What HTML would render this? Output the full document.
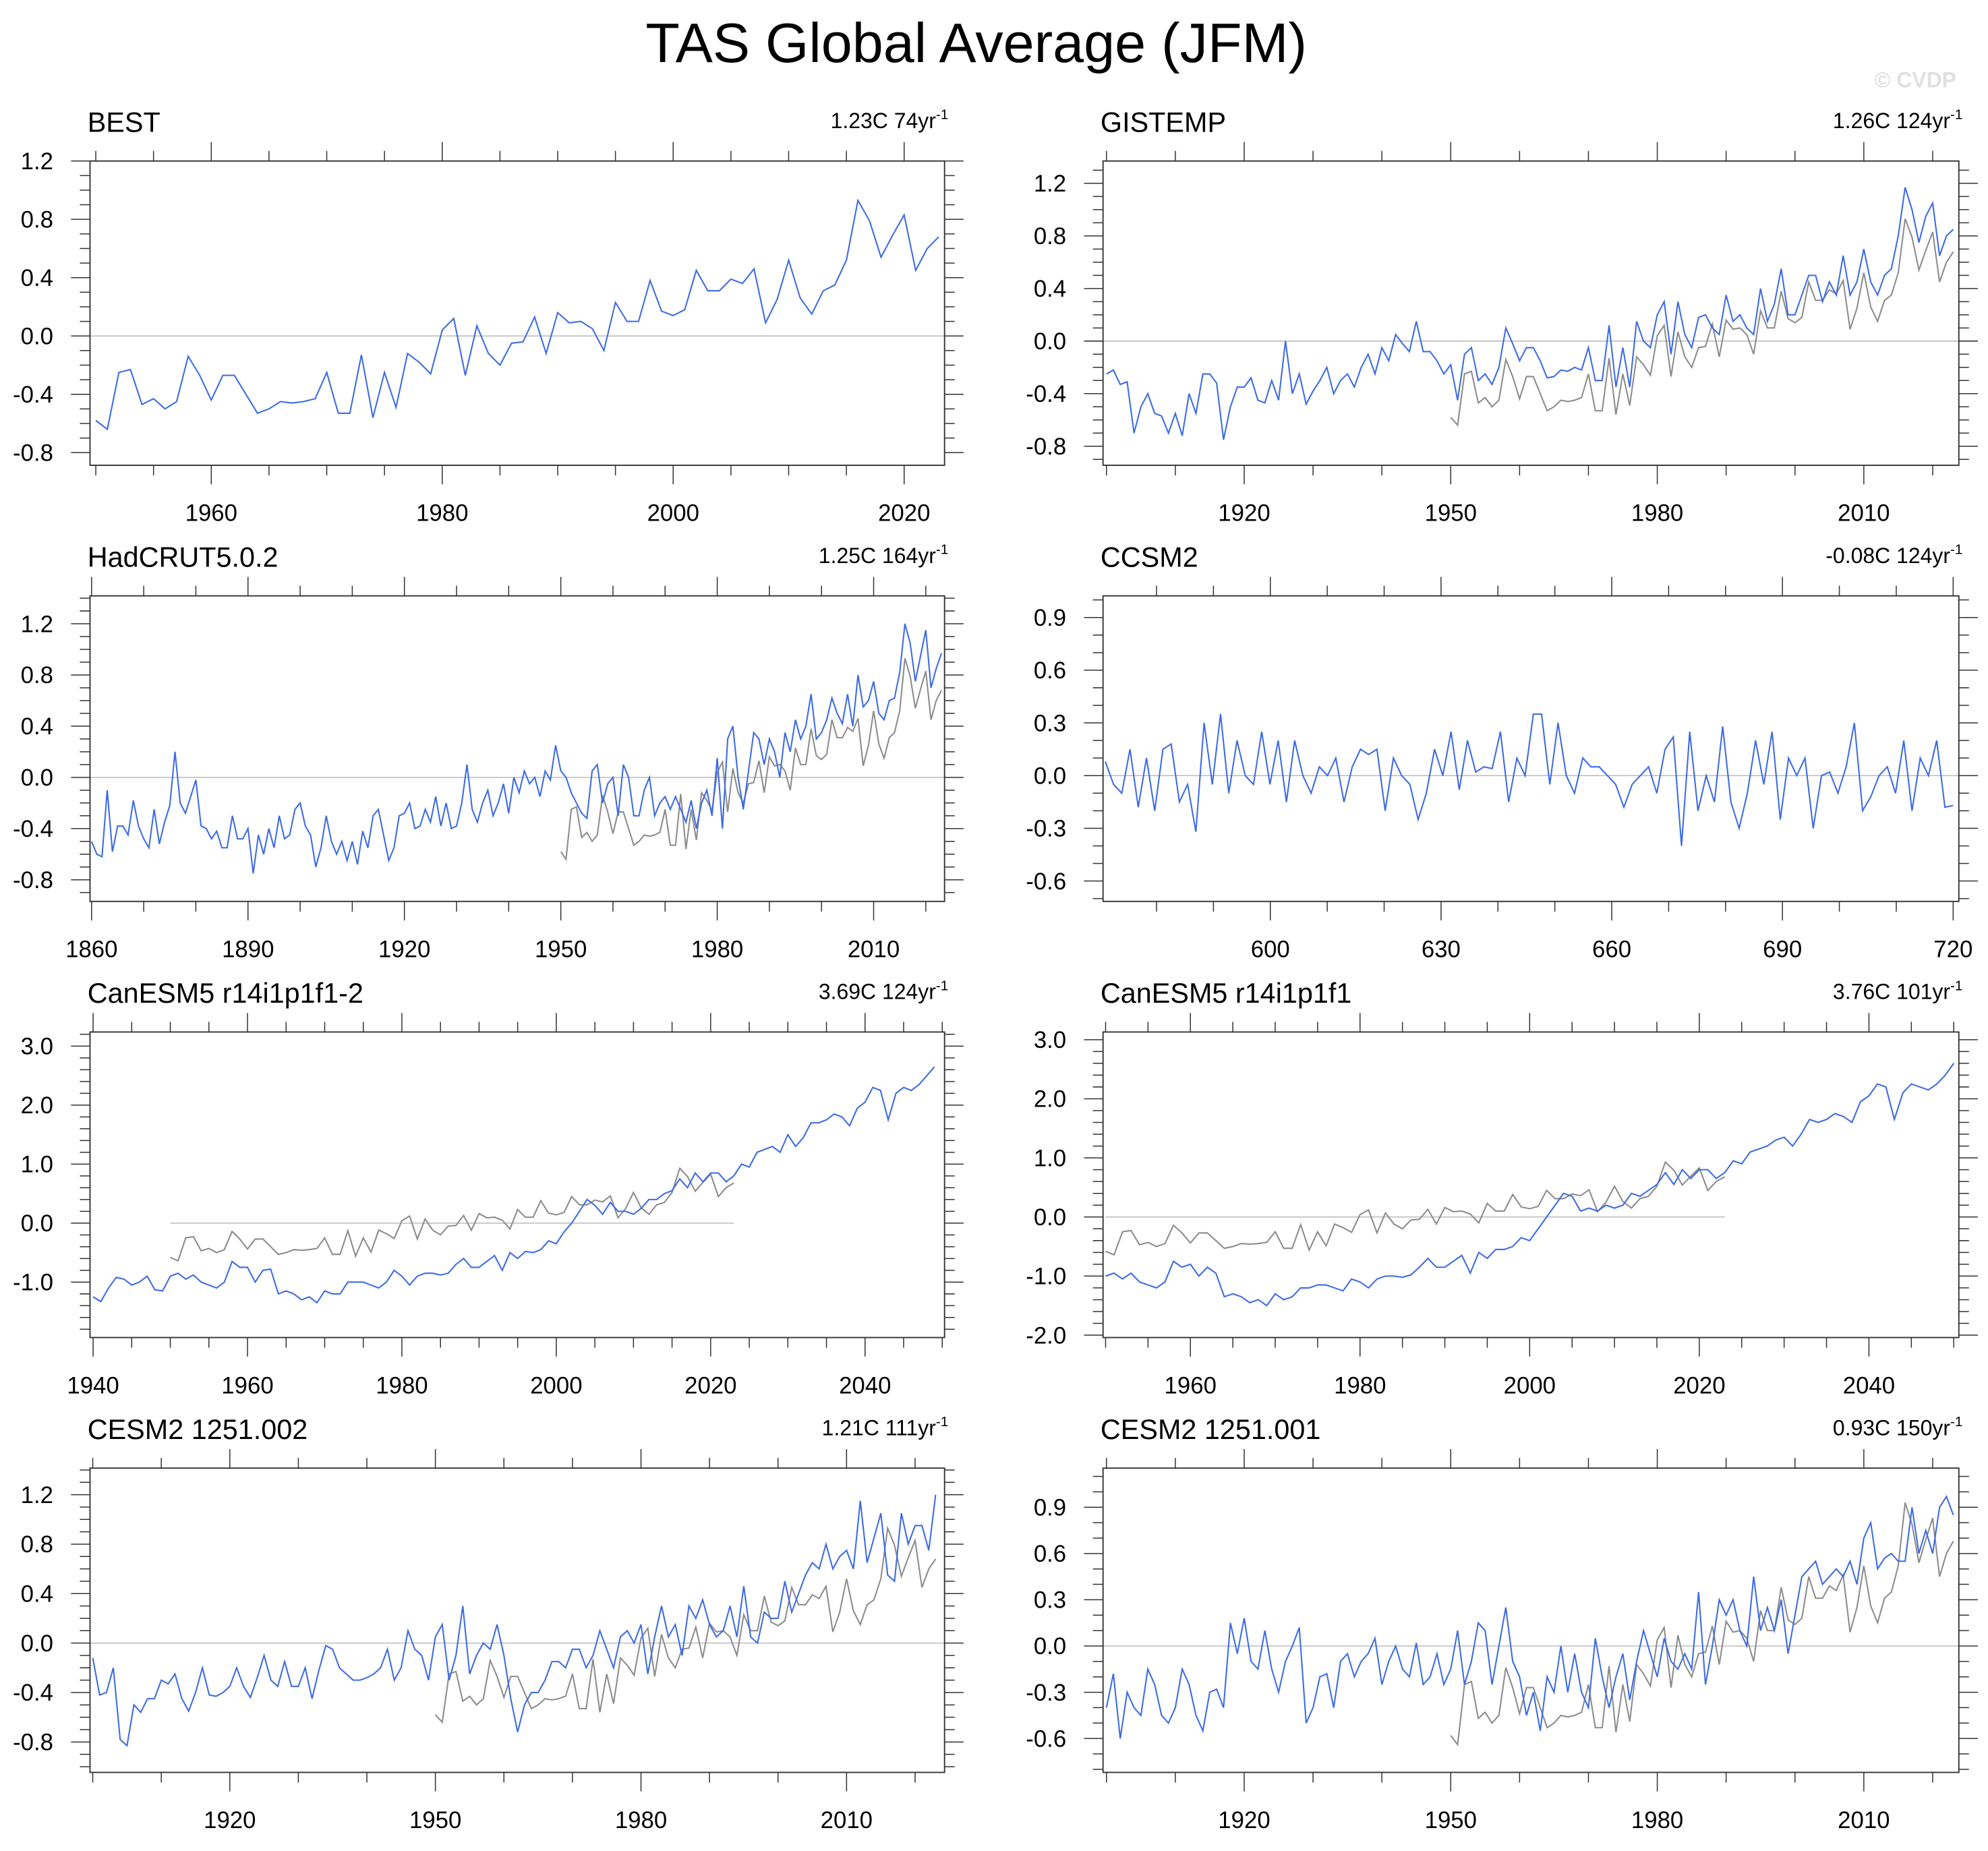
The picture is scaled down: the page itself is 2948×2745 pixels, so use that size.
<!DOCTYPE html>
<html><head><meta charset="utf-8"><style>
html,body{margin:0;padding:0;background:#fff}
svg{display:block;font-family:"Liberation Sans",Arial,sans-serif}
</style></head><body>
<svg id="fig" xmlns="http://www.w3.org/2000/svg" width="2948" height="2745" viewBox="0 0 1568 1460" preserveAspectRatio="none">
<rect width="1568" height="1460" fill="#fff"/>
<text x="770" y="49" font-size="44" text-anchor="middle">TAS Global Average (JFM)</text>
<text x="1543" y="69" font-size="17" font-weight="bold" fill="#e0e0e0" text-anchor="end">© CVDP</text>
</svg>
<script>
const bestVals=[-0.58,-0.64,-0.25,-0.23,-0.47,-0.43,-0.5,-0.45,-0.14,-0.27,-0.44,-0.27,-0.27,-0.4,-0.53,-0.5,-0.45,-0.46,-0.45,-0.43,-0.25,-0.53,-0.53,-0.13,-0.56,-0.25,-0.49,-0.12,-0.18,-0.26,0.04,0.12,-0.27,0.07,-0.12,-0.2,-0.05,-0.04,0.13,-0.12,0.16,0.09,0.1,0.05,-0.1,0.23,0.1,0.1,0.38,0.17,0.14,0.18,0.45,0.31,0.31,0.39,0.36,0.46,0.09,0.25,0.52,0.26,0.15,0.31,0.35,0.52,0.93,0.79,0.54,0.69,0.83,0.45,0.6,0.68];
const bestStart=1950;
const gisVals=[-0.25,-0.22,-0.33,-0.31,-0.7,-0.5,-0.4,-0.55,-0.57,-0.7,-0.55,-0.72,-0.4,-0.55,-0.25,-0.25,-0.32,-0.75,-0.5,-0.35,-0.35,-0.28,-0.45,-0.47,-0.3,-0.45,0.0,-0.4,-0.25,-0.48,-0.38,-0.3,-0.2,-0.4,-0.3,-0.25,-0.35,-0.2,-0.1,-0.25,-0.05,-0.15,0.05,-0.02,-0.08,0.15,-0.08,-0.08,-0.15,-0.25,-0.18,-0.45,-0.1,-0.05,-0.3,-0.25,-0.33,-0.2,0.1,-0.02,-0.15,-0.05,-0.05,-0.15,-0.28,-0.27,-0.22,-0.23,-0.2,-0.22,-0.05,-0.3,-0.3,0.12,-0.35,-0.05,-0.35,0.15,0.0,-0.05,0.2,0.3,-0.1,0.3,0.05,-0.05,0.18,0.2,0.1,0.05,0.35,0.15,0.2,0.1,0.05,0.4,0.15,0.28,0.55,0.2,0.2,0.35,0.5,0.5,0.3,0.45,0.35,0.65,0.35,0.45,0.7,0.45,0.35,0.5,0.55,0.8,1.17,1.0,0.75,0.95,1.05,0.65,0.8,0.85];
const hadVals=[-0.5,-0.6,-0.62,-0.1,-0.58,-0.38,-0.38,-0.45,-0.18,-0.38,-0.48,-0.55,-0.25,-0.52,-0.35,-0.22,0.2,-0.2,-0.28,-0.15,-0.02,-0.38,-0.4,-0.48,-0.42,-0.55,-0.55,-0.3,-0.48,-0.48,-0.4,-0.75,-0.45,-0.6,-0.4,-0.55,-0.3,-0.48,-0.45,-0.25,-0.2,-0.38,-0.45,-0.7,-0.55,-0.3,-0.5,-0.6,-0.5,-0.65,-0.5,-0.68,-0.42,-0.55,-0.3,-0.25,-0.45,-0.65,-0.55,-0.3,-0.28,-0.2,-0.4,-0.38,-0.25,-0.35,-0.15,-0.38,-0.2,-0.4,-0.38,-0.2,0.1,-0.25,-0.35,-0.2,-0.1,-0.3,-0.2,-0.05,-0.28,0.0,-0.12,0.05,-0.05,0.0,-0.15,0.05,-0.02,0.25,0.05,0.0,-0.12,-0.2,-0.28,-0.32,0.05,0.1,-0.2,-0.05,0.0,-0.3,0.1,0.0,-0.3,-0.3,-0.1,0.0,-0.3,-0.2,-0.15,-0.25,-0.15,-0.25,-0.35,-0.18,-0.4,-0.2,-0.1,-0.3,0.15,-0.4,0.3,0.4,0.0,-0.25,0.05,0.35,0.3,0.1,0.3,0.2,0.0,0.35,0.2,0.45,0.3,0.4,0.65,0.3,0.35,0.45,0.62,0.5,0.42,0.65,0.4,0.8,0.55,0.6,0.75,0.5,0.45,0.6,0.62,0.82,1.2,1.05,0.75,0.95,1.15,0.7,0.85,0.97];
const ccsmVals=[0.08,-0.05,-0.1,0.15,-0.18,0.1,-0.2,0.15,0.18,-0.15,-0.05,-0.32,0.3,-0.05,0.35,-0.1,0.2,0.0,-0.05,0.25,-0.05,0.2,-0.15,0.2,0.0,-0.1,0.05,0.0,0.1,-0.15,0.05,0.15,0.12,0.15,-0.2,0.1,0.0,-0.05,-0.25,-0.1,0.15,0.0,0.25,-0.08,0.2,0.02,0.05,0.04,0.25,-0.15,0.1,0.0,0.35,0.35,-0.05,0.3,0.0,-0.1,0.1,0.05,0.05,0.0,-0.05,-0.18,-0.05,0.0,0.05,-0.1,0.15,0.22,-0.4,0.25,-0.2,0.0,-0.15,0.28,-0.15,-0.3,-0.1,0.2,-0.05,0.25,-0.25,0.1,0.0,0.1,-0.3,0.0,0.02,-0.1,0.05,0.3,-0.2,-0.12,0.0,0.05,-0.1,0.2,-0.2,0.1,0.0,0.2,-0.18,-0.17];
const can2Vals=[-1.25,-1.33,-1.1,-0.92,-0.95,-1.05,-1.0,-0.9,-1.13,-1.15,-0.9,-0.85,-0.95,-0.88,-1.0,-1.05,-1.1,-1.0,-0.65,-0.75,-0.75,-1.0,-0.8,-0.78,-1.2,-1.15,-1.2,-1.3,-1.25,-1.35,-1.15,-1.2,-1.2,-1.0,-1.0,-1.0,-1.05,-1.1,-1.0,-0.8,-0.9,-1.05,-0.9,-0.85,-0.85,-0.88,-0.85,-0.7,-0.6,-0.75,-0.75,-0.65,-0.55,-0.8,-0.5,-0.6,-0.48,-0.5,-0.45,-0.3,-0.35,-0.15,0.0,0.2,0.4,0.3,0.15,0.35,0.2,0.2,0.15,0.25,0.4,0.4,0.5,0.55,0.75,0.6,0.85,0.7,0.85,0.85,0.7,0.8,1.0,0.95,1.2,1.25,1.3,1.2,1.5,1.3,1.45,1.7,1.7,1.75,1.85,1.8,1.65,1.95,2.05,2.3,2.25,1.75,2.2,2.3,2.25,2.35,2.5,2.65];
const can1Vals=[-1.0,-0.95,-1.05,-0.95,-1.1,-1.15,-1.2,-1.1,-0.75,-0.85,-0.8,-1.0,-0.85,-0.95,-1.35,-1.3,-1.35,-1.45,-1.4,-1.5,-1.3,-1.4,-1.35,-1.2,-1.2,-1.15,-1.15,-1.2,-1.25,-1.05,-1.1,-1.2,-1.05,-1.0,-1.0,-1.02,-0.98,-0.85,-0.7,-0.85,-0.85,-0.75,-0.65,-0.95,-0.6,-0.7,-0.55,-0.55,-0.5,-0.35,-0.4,-0.2,0.0,0.2,0.4,0.35,0.1,0.15,0.1,0.2,0.15,0.2,0.4,0.35,0.45,0.55,0.75,0.55,0.8,0.65,0.8,0.8,0.65,0.75,0.95,0.9,1.1,1.15,1.2,1.3,1.35,1.2,1.4,1.65,1.6,1.65,1.75,1.7,1.6,1.95,2.05,2.25,2.2,1.65,2.1,2.25,2.2,2.15,2.25,2.4,2.6];
const ces2Vals=[-0.12,-0.42,-0.4,-0.2,-0.78,-0.83,-0.5,-0.56,-0.45,-0.45,-0.3,-0.33,-0.25,-0.45,-0.55,-0.4,-0.2,-0.42,-0.43,-0.4,-0.35,-0.2,-0.35,-0.44,-0.28,-0.1,-0.3,-0.35,-0.15,-0.35,-0.35,-0.2,-0.45,-0.22,-0.02,-0.05,-0.2,-0.25,-0.3,-0.3,-0.28,-0.25,-0.2,-0.05,-0.3,-0.2,0.1,-0.05,-0.1,-0.3,0.05,0.15,-0.3,-0.1,0.3,-0.25,-0.1,0.0,-0.05,0.15,-0.1,-0.45,-0.72,-0.5,-0.4,-0.4,-0.3,-0.15,-0.15,-0.2,-0.05,-0.05,-0.2,-0.1,0.1,-0.05,-0.2,0.05,0.1,0.0,0.15,-0.25,0.05,0.3,0.05,0.15,-0.1,0.3,0.2,0.35,0.15,0.05,0.1,0.3,0.05,0.46,0.05,0.0,0.25,0.2,0.2,0.5,0.25,0.4,0.55,0.65,0.6,0.8,0.6,0.7,0.75,0.6,1.15,0.65,0.85,1.05,0.55,0.5,1.05,0.8,0.95,0.95,0.75,1.2];
const ces1Vals=[-0.4,-0.18,-0.6,-0.3,-0.4,-0.45,-0.15,-0.25,-0.45,-0.5,-0.4,-0.15,-0.25,-0.45,-0.55,-0.3,-0.28,-0.4,0.15,-0.05,0.18,-0.1,-0.15,0.1,-0.15,-0.3,-0.1,0.0,0.12,-0.5,-0.4,-0.2,-0.18,-0.4,-0.1,-0.05,-0.2,-0.1,-0.05,0.05,-0.25,-0.1,0.0,-0.15,-0.2,0.02,-0.25,-0.2,-0.05,-0.25,-0.15,0.1,-0.25,-0.1,0.15,0.1,-0.25,0.0,0.25,-0.1,-0.2,-0.45,-0.3,-0.55,-0.2,-0.3,0.0,-0.3,-0.05,-0.3,-0.4,0.05,-0.2,-0.4,-0.2,-0.05,-0.35,-0.1,0.1,-0.05,-0.2,0.05,-0.1,-0.15,-0.05,-0.15,0.35,-0.25,0.0,0.3,0.2,0.3,0.1,0.0,0.45,0.1,0.25,0.1,0.3,-0.05,0.2,0.45,0.5,0.55,0.4,0.45,0.5,0.45,0.55,0.4,0.7,0.8,0.5,0.57,0.6,0.55,0.55,0.9,0.6,0.75,0.6,0.9,0.97,0.85];
const panelTitles=["BEST","GISTEMP","HadCRUT5.0.2","CCSM2","CanESM5 r14i1p1f1-2","CanESM5 r14i1p1f1","CESM2 1251.002","CESM2 1251.001"];
const panelNotes=[["1.23C 74yr"],["1.26C 124yr"],["1.25C 164yr"],["-0.08C 124yr"],["3.69C 124yr"],["3.76C 101yr"],["1.21C 111yr"],["0.93C 150yr"]];

const NS="http://www.w3.org/2000/svg";
const svg=document.getElementById('fig');
function mk(tag,attrs,parent){const e=document.createElementNS(NS,tag);for(const k in attrs)e.setAttribute(k,attrs[k]);(parent||svg).appendChild(e);return e;}
const L=[71,745],R=[870,1545];
const rows=[[127,367],[470,711],[814,1055],[1158,1398]];
const panels=[
 {key:'best',box:[L,rows[0]],x:[1949.5,2023.5],y:[-0.887,1.2],xt:[1960,1980,2000,2020],xm:5,yt:[1.2,0.8,0.4,0,-0.4,-0.8],ym:0.1,blue:bestVals,bs:1950,gray:false,zl:null},
 {key:'gistemp',box:[R,rows[0]],x:[1899.5,2023.8],y:[-0.945,1.37],xt:[1920,1950,1980,2010],xm:10,yt:[1.2,0.8,0.4,0,-0.4,-0.8],ym:0.1,blue:gisVals,bs:1900,gray:true,zl:null},
 {key:'hadcrut',box:[L,rows[1]],x:[1859.7,2023.6],y:[-0.969,1.418],xt:[1860,1890,1920,1950,1980,2010],xm:10,yt:[1.2,0.8,0.4,0,-0.4,-0.8],ym:0.1,blue:hadVals,bs:1860,gray:true,zl:null},
 {key:'ccsm2',box:[R,rows[1]],x:[570.6,721],y:[-0.716,1.023],xt:[600,630,660,690,720],xm:10,yt:[0.9,0.6,0.3,0,-0.3,-0.6],ym:0.1,blue:ccsmVals,bs:571,span:149,gray:false,zl:null},
 {key:'canesm5-2',box:[L,rows[2]],x:[1939.6,2050.3],y:[-1.94,3.24],xt:[1940,1960,1980,2000,2020,2040],xm:5,yt:[3,2,1,0,-1],ym:0.2,blue:can2Vals,bs:1940,gray:true,zl:[1950,2023]},
 {key:'canesm5-1',box:[R,rows[2]],x:[1949.7,2050.6],y:[-2.04,3.13],xt:[1960,1980,2000,2020,2040],xm:5,yt:[3,2,1,0,-1,-2],ym:0.2,blue:can1Vals,bs:1950,gray:true,zl:[1950,2023]},
 {key:'cesm2-002',box:[L,rows[3]],x:[1899.6,2024.3],y:[-1.046,1.415],xt:[1920,1950,1980,2010],xm:10,yt:[1.2,0.8,0.4,0,-0.4,-0.8],ym:0.1,blue:ces2Vals,bs:1900,gray:true,zl:null},
 {key:'cesm2-001',box:[R,rows[3]],x:[1899.5,2023.8],y:[-0.82,1.154],xt:[1920,1950,1980,2010],xm:10,yt:[0.9,0.6,0.3,0,-0.3,-0.6],ym:0.1,blue:ces1Vals,bs:1900,gray:true,zl:null}
];
panels.forEach((p,i)=>{
 const [x0,x1]=p.box[0],[y0,y1]=p.box[1];
 const sx=v=>x0+(v-p.x[0])/(p.x[1]-p.x[0])*(x1-x0);
 const sy=v=>y1-(v-p.y[0])/(p.y[1]-p.y[0])*(y1-y0);
 const g=mk('g',{});
 
 
 const t=mk('text',{x:x0-2,y:y0-23,'font-size':22},g);t.textContent=panelTitles[i];
 
 
 const n=mk('text',{x:x1+3,y:y0-26,'font-size':17,'text-anchor':'end'},g);
 
 
 n.appendChild(document.createTextNode(panelNotes[i][0]));
 const sup=mk('tspan',{dy:-7,'font-size':11},n);sup.textContent='-1';
 const za=p.zl?sx(p.zl[0]):x0, zb=p.zl?sx(p.zl[1]):x1;
 const z=mk('line',{x1:za,x2:zb,y1:sy(0),y2:sy(0),stroke:'#bbb','stroke-width':0.8},g);
 
 
 let d='';
 const xa=Math.ceil(p.x[0]/p.xm)*p.xm;
 for(let v=xa;v<=p.x[1];v+=p.xm){const X=sx(v);const maj=p.xt.includes(v)||(v%(p.xt[1]-p.xt[0])===p.xt[0]%(p.xt[1]-p.xt[0]));const l=maj?15:8;d+=`M${X},${y0}v${-l}M${X},${y1}v${l}`;}
 const ya=Math.ceil(p.y[0]/p.ym-1e-6);
 for(let k=ya;k*p.ym<=p.y[1]+1e-9;k++){const v=k*p.ym;const Y=sy(v);const maj=p.yt.some(q=>Math.abs(q-v)<1e-6);const l=maj?15:8;d+=`M${x0},${Y}h${-l}M${x1},${Y}h${l}`;}
 const tk=mk('path',{d:d,stroke:'#333','stroke-width':0.8,fill:'none'},g);
 
 
 p.xt.forEach(v=>{const e=mk('text',{x:sx(v),y:y1+44,'font-size':18.5,'text-anchor':'middle'},g);e.textContent=String(v);
  
  });
 p.yt.forEach(v=>{const e=mk('text',{x:x0-29,y:sy(v)+6.5,'font-size':18.5,'text-anchor':'end'},g);e.textContent=v.toFixed(1);
  
  });
 if(p.gray){
  const pts=bestVals.map((v,j)=>sx(bestStart+j)+','+sy(v)).join(' ');
  const gl=mk('polyline',{points:pts,fill:'none',stroke:'#8c8c8c','stroke-width':1.1},g);
  
  
 }
 const nb=p.blue.length;
 const pts=p.blue.map((v,j)=>{const yr=p.span?p.bs+j*p.span/(nb-1):p.bs+j;return sx(yr)+','+sy(v);}).join(' ');
 const bl=mk('polyline',{points:pts,fill:'none',stroke:'#3d6be6','stroke-width':1.1},g);
 
 
 const bx=mk('rect',{x:x0,y:y0,width:x1-x0,height:y1-y0,fill:'none',stroke:'#333','stroke-width':1},g);
 
 
});
</script>
</body></html>
